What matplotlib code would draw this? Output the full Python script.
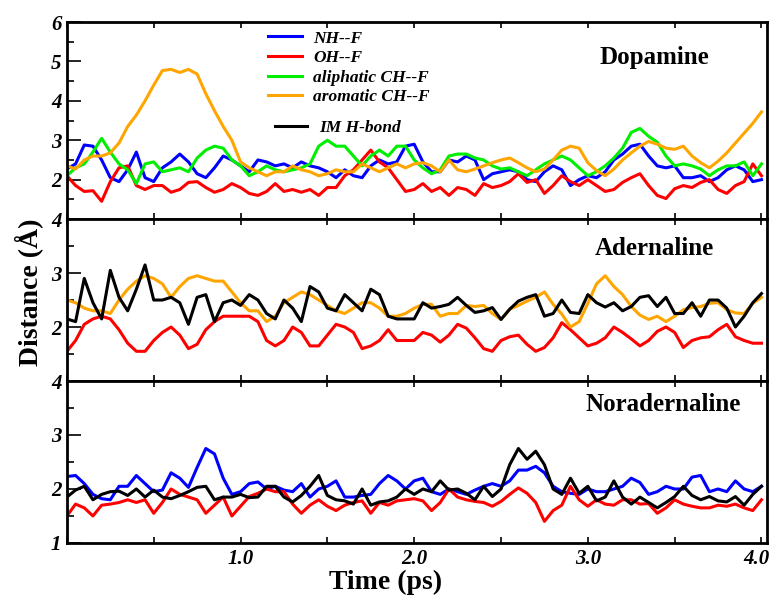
import numpy as np
import matplotlib
matplotlib.use("Agg")
import matplotlib.pyplot as plt
import matplotlib.transforms as mtransforms
from matplotlib.ticker import MultipleLocator

plt.rcParams['font.family'] = ['Liberation Serif', 'DejaVu Serif']

# time axis of the trajectories (ps), one sample every 0.05 ps
time = np.round(np.arange(81) * 0.05, 2)

# Dopamine
dopa_nh = [2.27, 2.4, 2.88, 2.85, 2.5, 2.05, 1.95, 2.25, 2.7, 2.05,
           1.95, 2.3, 2.45, 2.65, 2.45, 2.15, 2.05, 2.3, 2.6, 2.5,
           2.35, 2.2, 2.5, 2.45, 2.35, 2.4, 2.3, 2.45, 2.35, 2.3,
           2.2, 2.05, 2.25, 2.1, 2.05, 2.35, 2.5, 2.4, 2.45, 2.85,
           2.9,
           2.45, 2.2, 2.2, 2.5, 2.45, 2.6, 2.5, 2.0, 2.15, 2.2,
           2.25, 2.2, 2.0, 1.95, 2.2, 2.35, 2.25, 1.85, 2.0, 2.1,
           2.05, 2.2, 2.5, 2.65, 2.85, 2.9, 2.6, 2.35, 2.3, 2.35,
           2.05, 2.05, 2.1, 1.95, 2.05, 2.25, 2.35, 2.25, 1.95, 2.0]
dopa_oh = [2.1, 1.85, 1.7, 1.72, 1.45, 1.95, 2.3, 2.35, 1.85, 1.75,
           1.85, 1.85, 1.68, 1.75, 1.93, 1.95, 1.8, 1.68, 1.75, 1.9,
           1.8, 1.65, 1.6, 1.7, 1.9, 1.7, 1.75, 1.68, 1.75, 1.6,
           1.8, 1.8, 2.1, 2.25, 2.5, 2.75, 2.45, 2.3, 2.0, 1.7,
           1.75,
           1.9, 1.7, 1.8, 1.6, 1.8, 1.75, 1.6, 1.9, 1.8, 1.85,
           1.95, 2.15, 1.93, 2.0, 1.65, 1.85, 2.1, 1.95, 1.85, 2.0,
           1.85, 1.7, 1.75, 1.93, 2.05, 2.15, 1.85, 1.6, 1.52, 1.77,
           1.85, 1.8, 1.93, 2.0, 1.75, 1.65, 1.85, 1.95, 2.4, 2.1]
dopa_ali = [2.1, 2.3, 2.4, 2.7, 3.05, 2.7, 2.4, 2.25, 1.9, 2.4,
            2.45, 2.2, 2.25, 2.3, 2.2, 2.55, 2.75, 2.85, 2.8, 2.5,
            2.35, 2.1, 2.2, 2.35, 2.25, 2.2, 2.25, 2.3, 2.4, 2.85,
            3.0, 2.85, 2.85, 2.6, 2.35, 2.6, 2.75, 2.6, 2.85, 2.85,
            2.5,
            2.3, 2.15, 2.25, 2.6, 2.65, 2.65, 2.55, 2.5, 2.35, 2.27,
            2.3, 2.2, 2.1, 2.25, 2.4, 2.5, 2.6, 2.5, 2.3, 2.1,
            2.2, 2.35, 2.55, 2.8, 3.2, 3.3, 3.1, 2.95, 2.6, 2.35,
            2.4, 2.35, 2.27, 2.1, 2.25, 2.35, 2.35, 2.45, 2.1, 2.4]
dopa_aro = [2.35, 2.27, 2.5, 2.6, 2.6, 2.68, 2.93, 3.35, 3.64, 4.0,
            4.4, 4.77, 4.8, 4.72, 4.8, 4.68, 4.18, 3.75, 3.35, 3.0,
            2.45, 2.3, 2.2, 2.1, 2.2, 2.2, 2.35, 2.25, 2.2, 2.1,
            2.15, 2.25, 2.2, 2.2, 2.4, 2.3, 2.2, 2.3, 2.4, 2.3,
            2.4,
            2.43, 2.35, 2.2, 2.5, 2.25, 2.2, 2.27, 2.35, 2.43, 2.5,
            2.55, 2.43, 2.3, 2.2, 2.27, 2.5, 2.75, 2.85, 2.8, 2.43,
            2.23, 2.1, 2.27, 2.5, 2.68, 2.85, 2.97, 2.9, 2.8, 2.77,
            2.85, 2.6, 2.43, 2.3, 2.47, 2.68, 2.93, 3.18, 3.43, 3.72]

# Adernaline
adr_oh = [1.55, 1.75, 2.05, 2.15, 2.2, 2.15, 1.95, 1.7, 1.55, 1.55,
          1.75, 1.9, 2.0, 1.85, 1.6, 1.68, 1.95, 2.1, 2.2, 2.2,
          2.2, 2.2, 2.1, 1.75, 1.65, 1.75, 2.0, 1.9, 1.65, 1.65,
          1.85, 2.05, 2.0, 1.9, 1.6, 1.65, 1.75, 1.95, 1.75, 1.75,
          1.75,
          1.9, 1.85, 1.72, 1.85, 2.05, 1.98, 1.8, 1.6, 1.55, 1.75,
          1.82, 1.85, 1.68, 1.55, 1.62, 1.8, 2.08, 1.95, 1.8, 1.65,
          1.7, 1.8, 2.0, 1.9, 1.78, 1.65, 1.75, 1.92, 2.0, 1.9,
          1.62, 1.75, 1.8, 1.82, 1.95, 2.05, 1.82, 1.75, 1.7, 1.7]
adr_aro = [2.5, 2.45, 2.35, 2.3, 2.3, 2.25, 2.5, 2.7, 2.85, 2.95,
           2.9, 2.8, 2.55, 2.75, 2.9, 2.95, 2.9, 2.85, 2.85, 2.65,
           2.45, 2.3, 2.3, 2.1, 2.2, 2.45, 2.55, 2.65, 2.6, 2.5,
           2.4, 2.3, 2.25, 2.35, 2.45, 2.45, 2.35, 2.2, 2.2, 2.25,
           2.35,
           2.42, 2.42, 2.2, 2.25, 2.25, 2.4, 2.38, 2.4, 2.25, 2.14,
           2.33, 2.4, 2.48, 2.55, 2.65, 2.42, 2.24, 2.0, 2.1, 2.44,
           2.8, 2.95, 2.75, 2.6, 2.38, 2.22, 2.14, 2.2, 2.1, 2.2,
           2.32, 2.36, 2.38, 2.44, 2.45, 2.32, 2.26, 2.25, 2.44, 2.55]
adr_im = [2.15, 2.1, 2.9, 2.45, 2.15, 3.05, 2.55, 2.3, 2.7, 3.15,
          2.5, 2.5, 2.55, 2.45, 2.05, 2.55, 2.6, 2.1, 2.45, 2.5,
          2.4, 2.6, 2.5, 2.25, 2.15, 2.5, 2.35, 2.1, 2.75, 2.65,
          2.35, 2.3, 2.6, 2.45, 2.3, 2.7, 2.6, 2.2, 2.15, 2.15,
          2.15,
          2.45, 2.35, 2.38, 2.42, 2.55, 2.4, 2.27, 2.3, 2.36, 2.14,
          2.33, 2.48, 2.55, 2.6, 2.2, 2.25, 2.5, 2.27, 2.25, 2.6,
          2.45, 2.37, 2.45, 2.3, 2.38, 2.55, 2.58, 2.38, 2.55, 2.25,
          2.25, 2.45, 2.2, 2.5, 2.5, 2.35, 2.0, 2.2, 2.45, 2.62]

# Noradernaline
nor_nh = [2.23, 2.25, 2.1, 1.9, 1.82, 1.8, 2.05, 2.05, 2.25, 2.1,
          1.95, 1.98, 2.3, 2.2, 2.03, 2.4, 2.75, 2.65, 2.2, 1.9,
          1.95, 2.1, 2.13, 2.0, 2.05, 1.98, 1.95, 2.1, 1.85, 2.0,
          2.05, 2.15, 1.85, 1.85, 1.88, 1.9, 2.1, 2.25, 2.15, 2.0,
          2.15,
          2.2, 1.95, 1.9, 2.0, 1.95, 1.9, 1.98, 2.05, 2.1, 2.05,
          2.15, 2.35, 2.35, 2.42, 2.3, 2.05, 1.95, 1.92, 1.9, 2.0,
          1.95, 1.95, 2.0, 2.05, 2.2, 2.12, 1.9, 1.95, 2.05, 2.0,
          2.0, 2.22, 2.25, 1.95, 2.0, 1.95, 2.15, 2.0, 1.95, 2.05]
nor_oh = [1.5, 1.72, 1.65, 1.5, 1.7, 1.72, 1.75, 1.8, 1.75, 1.8,
          1.55, 1.75, 2.0, 1.9, 1.85, 1.8, 1.55, 1.7, 1.85, 1.5,
          1.68, 1.86, 1.92, 2.0, 1.95, 1.95, 1.72, 1.55, 1.7, 1.8,
          1.68, 1.6, 1.7, 1.75, 1.78, 1.55, 1.75, 1.7, 1.78, 1.8,
          1.82,
          1.78, 1.6, 1.75, 2.0, 1.85, 1.8, 1.77, 1.75, 1.68, 1.77,
          1.9, 2.02, 1.92, 1.75, 1.4, 1.6, 1.7, 2.05, 1.8, 1.68,
          1.8, 1.72, 1.7, 1.8, 1.8, 1.72, 1.73, 1.55, 1.65, 1.8,
          1.72, 1.68, 1.65, 1.65, 1.7, 1.68, 1.72, 1.65, 1.6, 1.8]
nor_im = [1.85, 1.98, 2.05, 1.8, 1.9, 1.95, 1.96, 1.88, 2.0, 1.85,
          1.98, 1.85, 1.82, 1.88, 1.95, 2.03, 2.05, 1.8, 1.85, 1.85,
          1.9, 1.84, 1.85, 2.05, 2.05, 1.85, 1.76, 1.88, 2.05, 2.25,
          1.88, 1.8, 1.78, 1.72, 2.0, 1.7, 1.76, 1.78, 1.85, 2.0,
          1.9,
          2.0, 1.95, 2.15, 1.98, 2.0, 1.92, 1.8, 2.05, 1.86, 2.0,
          2.45, 2.75, 2.55, 2.7, 2.45, 2.0, 1.9, 2.2, 1.92, 2.05,
          1.78, 1.85, 2.15, 1.85, 1.72, 1.85, 1.75, 1.65, 1.75, 1.86,
          2.05, 1.88, 1.8, 1.86, 1.78, 1.76, 1.86, 1.7, 1.9, 2.05]

names = ["Dopamine", "Adernaline", "Noradernaline"]
name_pos = [(0.84, 0.822), (0.839, 0.821), (0.852, 0.852)]
xtick_labels = ["", "", "1.0", "", "2.0", "", "3.0", "", "4.0"]

BLUE, RED, GREEN, ORANGE = "#0000ff", "#ff0000", "#00ee00", "#ffa500"
LW = 2.2

fig, axes = plt.subplots(3, 1, sharex=True, figsize=(7.69, 5.97), dpi=100,
                         gridspec_kw={"height_ratios": [197, 162, 162], "hspace": 0})
fig.subplots_adjust(left=0.087, right=0.997, top=0.963, bottom=0.0905)
ax1, ax2, ax3 = axes

l_nh, = ax1.plot(time, dopa_nh, color=BLUE, lw=LW, label="NH--F")
l_oh, = ax1.plot(time, dopa_oh, color=RED, lw=LW, label="OH--F")
l_ali, = ax1.plot(time, dopa_ali, color=GREEN, lw=LW, label="aliphatic CH--F")
l_aro, = ax1.plot(time, dopa_aro, color=ORANGE, lw=LW, label="aromatic CH--F")

ax2.plot(time, adr_oh, color=RED, lw=LW)
ax2.plot(time, adr_aro, color=ORANGE, lw=LW)
l_im, = ax2.plot(time, adr_im, color="black", lw=LW, label="IM H-bond")

ax3.plot(time, nor_nh, color=BLUE, lw=LW)
ax3.plot(time, nor_oh, color=RED, lw=LW)
ax3.plot(time, nor_im, color="black", lw=LW)

ax1.set_ylim(1, 6)
ax1.set_yticks([1, 2, 3, 4, 5, 6], ["", "2", "3", "4", "5", "6"])
ax2.set_ylim(1, 4)
ax2.set_yticks([1, 2, 3, 4], ["", "2", "3", "4"])
ax3.set_ylim(1, 4)
ax3.set_yticks([1, 2, 3, 4], ["1", "2", "3", "4"])
ax3.set_xticks(np.arange(0, 4.01, 0.5), xtick_labels)

for ax, name, pos in zip(axes, names, name_pos):
    ax.set_xlim(0, 4.03)
    ax.yaxis.set_minor_locator(MultipleLocator(0.5))
    ax.tick_params(axis="y", which="major", direction="in", length=10, width=1.2,
                   pad=4, labelsize=15)
    ax.tick_params(axis="y", which="minor", direction="in", length=5, width=1.2)
    ax.tick_params(axis="x", which="major", direction="in", length=4, width=1.2,
                   top=True, bottom=True, pad=4, labelsize=15)
    for lab in ax.get_yticklabels() + ax.get_xticklabels():
        lab.set_fontweight("bold")
        lab.set_fontstyle("italic")
    for sp in ax.spines.values():
        sp.set_linewidth(2.0)
    ax.text(pos[0], pos[1], name, transform=ax.transAxes, ha="center", va="center",
            fontsize=18, fontweight="bold")

# the last time label sits at the right border, nudge it inwards a little
last = ax3.get_xticklabels()[-1]
last.set_transform(last.get_transform() +
                   mtransforms.ScaledTranslation(-5 / 100, 0, fig.dpi_scale_trans))

leg_font = {"size": 12.5, "weight": "bold", "style": "italic"}
leg = ax1.legend(handles=[l_nh, l_oh, l_ali, l_aro], loc="upper left",
                 bbox_to_anchor=(0.287, 0.958), frameon=False, prop=leg_font,
                 handlelength=2.0, handletextpad=0.6, labelspacing=0.2,
                 borderpad=0, borderaxespad=0)
ax1.add_artist(leg)
ax1.legend(handles=[l_im], loc="upper left", bbox_to_anchor=(0.298, 0.505),
           frameon=False, prop=leg_font, handlelength=1.8, handletextpad=0.7,
           borderpad=0, borderaxespad=0)

fig.text(0.502, 0.025, "Time (ps)", ha="center", va="center",
         fontsize=20, fontweight="bold")
fig.text(0.037, 0.51, "Distance (Å)", ha="center", va="center", rotation=90,
         fontsize=20, fontweight="bold")

fig.savefig("out.png", dpi=100)
